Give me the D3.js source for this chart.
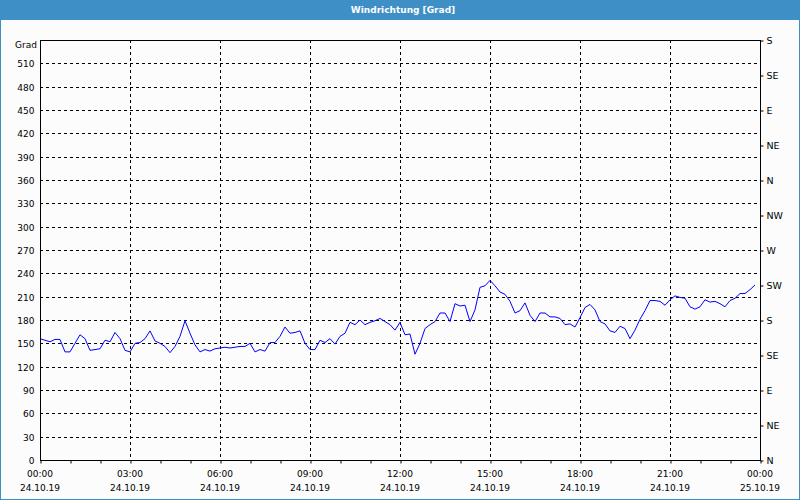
<!DOCTYPE html>
<html>
<head>
<meta charset="utf-8">
<script src="https://cdn.jsdelivr.net/npm/d3@7"></script>
<style>
  html, body { margin: 0; padding: 0; background: #fff; }
  svg { display: block; }
  text { font-family: "DejaVu Sans", sans-serif; }
</style>
</head>
<body>
<svg id="chart" width="800" height="500"></svg>
<script>
// ---- data ----
const title = "Windrichtung [Grad]";
const yAxisLabel = "Grad";
const startTime = "2019-10-24T00:00:00";
const endTime = "2019-10-25T00:00:00";
const stepMinutes = 10;
const windDirection = [
  156, 154, 152, 155, 155, 139, 139, 150, 161, 156,
  141, 142, 143, 154, 152, 164, 156, 141, 139, 150,
  151, 156, 166, 153, 150, 146, 138, 146, 159, 179,
  163, 148, 139, 142, 140, 143, 144, 145, 144, 145,
  146, 146, 150, 139, 142, 140, 151, 151, 159, 171,
  163, 164, 166, 150, 142, 142, 154, 151, 156, 149,
  159, 163, 177, 174, 180, 174, 177, 179, 182, 178,
  174, 167, 177, 161, 162, 136, 150, 169, 174, 178,
  189, 189, 178, 201, 198, 199, 178, 193, 222, 224,
  231, 224, 216, 213, 204, 189, 192, 202, 186, 178,
  189, 189, 184, 184, 182, 174, 175, 171, 183, 196,
  200, 193, 178, 175, 166, 164, 172, 169, 156, 167,
  181, 192, 205, 205, 204, 199, 206, 211, 209, 208,
  197, 194, 197, 206, 203, 204, 201, 197, 205, 208,
  214, 214, 219, 225
];
const leftTicks = [0, 30, 60, 90, 120, 150, 180, 210, 240, 270, 300, 330, 360, 390, 420, 450, 480, 510];
const rightTickValues = [0, 45, 90, 135, 180, 225, 270, 315, 360, 405, 450, 495, 540];
const rightTickLabels = ["N", "NE", "E", "SE", "S", "SW", "W", "NW", "N", "NE", "E", "SE", "S"];
const yMax = 540;

// ---- layout ----
const svg = d3.select("#chart");
const W = 800, H = 500;
const plot = { left: 40, right: 760, top: 40, bottom: 460 };
const fmtTime = d3.timeFormat("%H:%M");
const fmtDate = d3.timeFormat("%d.%m.%y");
const FS = 9;

const t0 = new Date(startTime), t1 = new Date(endTime);
const data = windDirection.map((v, i) => ({ t: d3.timeMinute.offset(t0, i * stepMinutes), v }));

const x = d3.scaleTime().domain([t0, t1]).range([plot.left, plot.right]);
const y = d3.scaleLinear().domain([0, yMax]).range([plot.bottom, plot.top]);

// background + frame
svg.append("rect").attr("x", 0).attr("y", 0).attr("width", W).attr("height", H).attr("fill", "#fbfcfb");
svg.append("rect").attr("x", 0).attr("y", 0).attr("width", W).attr("height", 20).attr("fill", "#3d8fc6");
svg.append("rect").attr("x", 0.5).attr("y", 0.5).attr("width", W - 1).attr("height", H - 1)
  .attr("fill", "none").attr("stroke", "#3d8fc6").attr("stroke-width", 1);
svg.append("text").attr("x", 403).attr("y", 10).attr("dy", "0.35em")
  .attr("text-anchor", "middle").attr("fill", "#fff").attr("font-weight", "bold")
  .attr("font-size", 9).text(title);

// grid
const g = svg.append("g");
g.selectAll("line.hgrid").data(leftTicks.filter(d => d > 0)).join("line")
  .attr("x1", plot.left).attr("x2", plot.right)
  .attr("y1", d => Math.round(y(d)) + 0.5).attr("y2", d => Math.round(y(d)) + 0.5)
  .attr("stroke", "#000").attr("stroke-dasharray", "3,3");
const majorTimes = d3.timeHour.every(3).range(t0, t1).filter(d => d > t0);
g.selectAll("line.vgrid").data(majorTimes).join("line")
  .attr("y1", plot.top).attr("y2", plot.bottom)
  .attr("x1", d => Math.round(x(d)) + 0.5).attr("x2", d => Math.round(x(d)) + 0.5)
  .attr("stroke", "#000").attr("stroke-dasharray", "3,3");

// line
svg.append("path").datum(data)
  .attr("fill", "none").attr("stroke", "#0000ff").attr("stroke-width", 1)
  .attr("d", d3.line().x(d => x(d.t)).y(d => y(d.v)));

// frame of plot
svg.append("rect").attr("x", plot.left + 0.5).attr("y", plot.top + 0.5)
  .attr("width", plot.right - plot.left).attr("height", plot.bottom - plot.top)
  .attr("fill", "none").attr("stroke", "#000");

// left axis
const leftAxis = d3.axisLeft(y).tickValues(leftTicks).tickSize(0).tickPadding(6).tickFormat(d3.format("d"));
const la = svg.append("g").attr("transform", `translate(${plot.left + 0.5},0.5)`).call(leftAxis);
la.select(".domain").remove();
la.selectAll("text").attr("font-size", FS).attr("fill", "#000").style("font-family", "DejaVu Sans, sans-serif");
svg.append("text").attr("x", 37).attr("y", 44.5).attr("dy", "0.35em").attr("text-anchor", "end")
  .attr("font-size", FS).attr("fill", "#000").text(yAxisLabel);

// right axis
const rightAxis = d3.axisRight(y).tickValues(rightTickValues).tickSize(3).tickPadding(3)
  .tickFormat((d, i) => rightTickLabels[i]);
const ra = svg.append("g").attr("transform", `translate(${plot.right + 0.5},0.5)`).call(rightAxis);
ra.select(".domain").remove();
ra.selectAll("line").attr("stroke", "#000");
ra.selectAll("text").attr("font-size", 9.5).attr("fill", "#000").style("font-family", "DejaVu Sans, sans-serif");

// bottom axis: hourly ticks, labels every 3h with date line
const ba = svg.append("g").attr("transform", `translate(0.5,${plot.bottom + 0.5})`)
  .call(d3.axisBottom(x).ticks(d3.timeHour.every(1)).tickSize(3).tickFormat(""));
ba.select(".domain").remove();
ba.selectAll("line").attr("stroke", "#000");
const labelTimes = d3.timeHour.every(3).range(t0, d3.timeMinute.offset(t1, 1));
const lbl = svg.append("g").selectAll("g").data(labelTimes).join("g")
  .attr("transform", d => `translate(${x(d)},0)`);
lbl.append("text").attr("y", 474).attr("dy", "0.35em").attr("text-anchor", "middle")
  .attr("font-size", FS).attr("fill", "#000").text(d => fmtTime(d));
lbl.append("text").attr("y", 488).attr("dy", "0.35em").attr("text-anchor", "middle")
  .attr("font-size", FS).attr("fill", "#000").text(d => fmtDate(d));
</script>
</body>
</html>
